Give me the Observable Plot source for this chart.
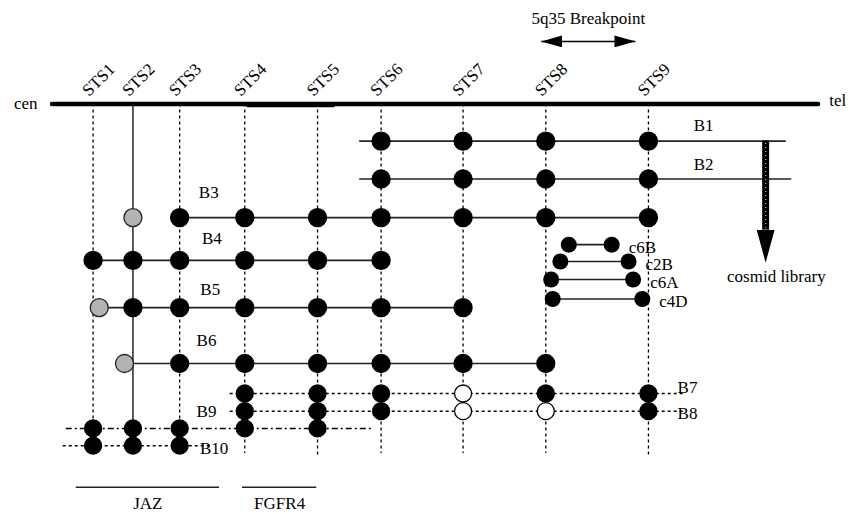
<!DOCTYPE html>
<html>
<head>
<meta charset="utf-8">
<script src="https://cdn.jsdelivr.net/npm/d3@7"></script>
<script src="https://cdn.jsdelivr.net/npm/@observablehq/plot@0.6"></script>
<style>
  html, body { margin: 0; padding: 0; background: white; }
  #chart svg, #chart svg text { font-family: "Liberation Serif", "Times New Roman", serif !important; }
</style>
</head>
<body>
<div id="chart"></div>
<script>
// ---- data (map units along the chromosome; track levels down the page) ----
const stsNames = ["STS1", "STS2", "STS3", "STS4", "STS5", "STS6", "STS7", "STS8", "STS9"];
const stsPos   = [5.3, 10.5, 16.6, 25.1, 34.6, 42.9, 53.6, 64.4, 77.8];
const stsEnd   = [9.11, 9.11, 9.11, 9.32, 9.43, 9.32, 9.32, 9.32, 9.43];

const bins      = ["B1", "B2", "B3", "B4", "B5", "B6", "B7", "B8", "B9", "B10"];
const binLevel  = [0.99, 2.0, 3.03, 4.17, 5.43, 6.92, 7.72, 8.19, 8.65, 9.11];
const binStart  = [40.1, 40.1, 16.6, 5.3, 6.1, 9.4, 23.2, 23.2, 1.8, 1.4];
const binEnd    = [95.8, 96.5, 77.8, 42.9, 53.6, 64.4, 82.4, 82.4, 41.8, 20.6];
// + positive, o negative, - not tested
const binHits   = ["-----++++", "-----++++", "--+++++++", "++++++---", "-++++++--",
                   "--++++++-", "---+++o++", "---+++oo+", "+++++----", "+++------"];
// ambiguous (grey) results
const ambBins = ["B3", "B5", "B6"];
const ambPos  = [10.5, 6.1, 9.4];

const cosmids      = ["c6B", "c2B", "c6A", "c4D"];
const cosmidStart  = [67.4, 66.3, 65.1, 65.3];
const cosmidEnd    = [73.0, 75.2, 75.8, 77.0];
const cosmidLevel  = [3.75, 4.2, 4.68, 5.2];

const genes     = ["JAZ", "FGFR4"];
const geneStart = [3.1, 24.8];
const geneEnd   = [21.8, 34.5];

const breakpointFrom = 63.8, breakpointTo = 76.1;

// ---- layout for labels ----
const binLabelX = [85, 85, 20.4, 20.8, 20.6, 20.1, 82.9, 82.9, 20.1, 21.1];
const binLabelY = [0.57, 1.61, 2.36, 3.59, 4.95, 6.31, 7.56, 8.25, 8.2, 9.19];
const binLabelAnchor = ["middle","middle","middle","middle","middle","middle","start","start","middle","start"];

// ---- derived tables ----
const hits = [];
bins.forEach((b, i) => {
  [...binHits[i]].forEach((c, j) => {
    if (c === "+" || c === "o") hits.push({bin: b, x: stsPos[j], y: binLevel[i], pos: c === "+", small: i >= 6});
  });
});
const amb = ambBins.map((b, i) => ({x: ambPos[i], y: binLevel[bins.indexOf(b)]}));
const rows = bins.map((b, i) => ({bin: b, x1: binStart[i], x2: binEnd[i], y: binLevel[i]}));
const solidRows = rows.filter(d => ["B1","B2","B3","B4","B5","B6"].includes(d.bin));
const dottedRows = rows.filter(d => ["B7","B8","B10"].includes(d.bin));
const dashDotRows = rows.filter(d => d.bin === "B9");
const sts = stsNames.map((s, i) => ({name: s, x: stsPos[i], y2: stsEnd[i]}));
const cos = cosmids.map((c, i) => ({name: c, x1: cosmidStart[i], x2: cosmidEnd[i], y: cosmidLevel[i]}));
const cosDots = cos.flatMap(d => [{x: d.x1, y: d.y}, {x: d.x2, y: d.y}]);
const gen = genes.map((g, i) => ({name: g, x1: geneStart[i], x2: geneEnd[i]}));

function head(len, wid, atTip) {
  return (color) => {
    const m = d3.create("svg:marker")
      .attr("viewBox", `0 ${-wid / 2} ${len} ${wid}`)
      .attr("markerWidth", len).attr("markerHeight", wid)
      .attr("markerUnits", "userSpaceOnUse")
      .attr("refX", atTip ? len : 0).attr("refY", 0)
      .attr("orient", "auto-start-reverse");
    m.append("path").attr("d", `M0,${-wid / 2}L${len},0L0,${wid / 2}Z`)
      .attr("fill", color).attr("stroke", "none").attr("stroke-dasharray", "none");
    return m.node();
  };
}

const FS = 17;
const FF = "Liberation Serif";
const chart = Plot.plot({
  width: 849,
  height: 514,
  margin: 0,
  x: {domain: [0, 100], range: [52, 818], axis: null},
  y: {domain: [0, 10], range: [103.5, 478.5], axis: null},
  style: {fontFamily: FF, fontSize: FS + "px", background: "white", color: "black"},
  marks: [
    // STS vertical guides
    Plot.ruleX(sts.filter(d => d.name !== "STS2"), {x: "x", y1: 0, y2: "y2", stroke: "black", strokeWidth: 1.3, strokeDasharray: "3,3"}),
    Plot.ruleX(sts.filter(d => d.name === "STS2"), {x: "x", y1: 0, y2: "y2", stroke: "#333", strokeWidth: 1.6}),
    // chromosome
    Plot.ruleY([0], {x1: 0, x2: 100, stroke: "black", strokeWidth: 4.5, strokeLinecap: "round"}),
    Plot.ruleY([0], {x1: 25.4, x2: 36.9, dy: 1, stroke: "black", strokeWidth: 4.5}),
    // bin rows
    Plot.ruleY(solidRows, {y: "y", x1: "x1", x2: "x2", stroke: "#222", strokeWidth: 1.6}),
    Plot.ruleY(dottedRows, {y: "y", x1: "x1", x2: "x2", stroke: "black", strokeWidth: 1.5, strokeDasharray: "3,3"}),
    Plot.ruleY(dashDotRows, {y: "y", x1: "x1", x2: "x2", stroke: "black", strokeWidth: 1.5, strokeDasharray: "6,3,2,3"}),
    // cosmids
    Plot.ruleY(cos, {y: "y", x1: "x1", x2: "x2", stroke: "#222", strokeWidth: 1.6}),
    Plot.dot(cosDots, {x: "x", y: "y", r: 8, fill: "black"}),
    Plot.text(cos, {x: "x2", y: "y", text: "name", dx: 17, dy: 3, textAnchor: "start", fontSize: FS, fontFamily: FF}),
    // results
    Plot.dot(hits.filter(d => !d.small), {x: "x", y: "y", r: 9, fill: d => d.pos ? "black" : "white", stroke: "black", strokeWidth: 1.3}),
    Plot.dot(hits.filter(d => d.small), {x: "x", y: "y", r: 8.5, fill: d => d.pos ? "black" : "white", stroke: "black", strokeWidth: 1.3}),
    Plot.dot(amb, {x: "x", y: "y", r: 9, fill: "#b3b3b3", stroke: "#222", strokeWidth: 1.3}),
    // bin labels
    Plot.text(bins, {x: (d, i) => binLabelX[i], y: (d, i) => binLabelY[i], text: d => d, textAnchor: (d, i) => binLabelAnchor[i], fontSize: FS, fontFamily: FF}),
    // STS labels
    Plot.text(sts, {x: "x", y: 0, text: "name", rotate: -45, textAnchor: "start", lineAnchor: "bottom", dx: -4, dy: -7, fontSize: FS, fontFamily: FF}),
    // chromosome ends
    Plot.text(["cen"], {x: -3.5, y: 0, text: d => d, fontSize: FS, fontFamily: FF}),
    Plot.text(["tel"], {x: 101.4, y: -0.1, text: d => d, textAnchor: "start", fontSize: FS, fontFamily: FF}),
    // breakpoint
    Plot.link([0], {x1: breakpointFrom, x2: breakpointTo, y1: -1.67, y2: -1.67, stroke: "black", strokeWidth: 1.5,
      markerStart: head(21, 12, true), markerEnd: head(21, 12, true)}),
    Plot.text(["5q35 Breakpoint"], {x: (breakpointFrom + breakpointTo) / 2, y: -2.28, text: d => d, fontSize: FS, fontFamily: FF}),
    // cosmid library arrow
    Plot.link([0], {x1: 93.1, x2: 93.1, y1: binLevel[0] - 0.02, y2: 3.35, stroke: "black", strokeWidth: 7,
      markerEnd: head(33, 18, false)}),
    Plot.link([0], {x1: 93.1, x2: 93.1, y1: binLevel[0] + 0.05, y2: 3.3, stroke: "white", strokeWidth: 1.2, strokeDasharray: "1,3", strokeOpacity: 0.7}),
    Plot.text(["cosmid library"], {x: 94.5, y: 4.6, text: d => d, fontSize: FS, fontFamily: FF}),
    // genes
    Plot.ruleY(gen, {y: 10.22, x1: "x1", x2: "x2", stroke: "#222", strokeWidth: 1.5}),
    Plot.text(gen, {x: d => (d.x1 + d.x2) / 2, y: 10.65, text: "name", fontSize: FS, fontFamily: FF})
  ]
});
document.getElementById("chart").appendChild(chart);
</script>
</body>
</html>
